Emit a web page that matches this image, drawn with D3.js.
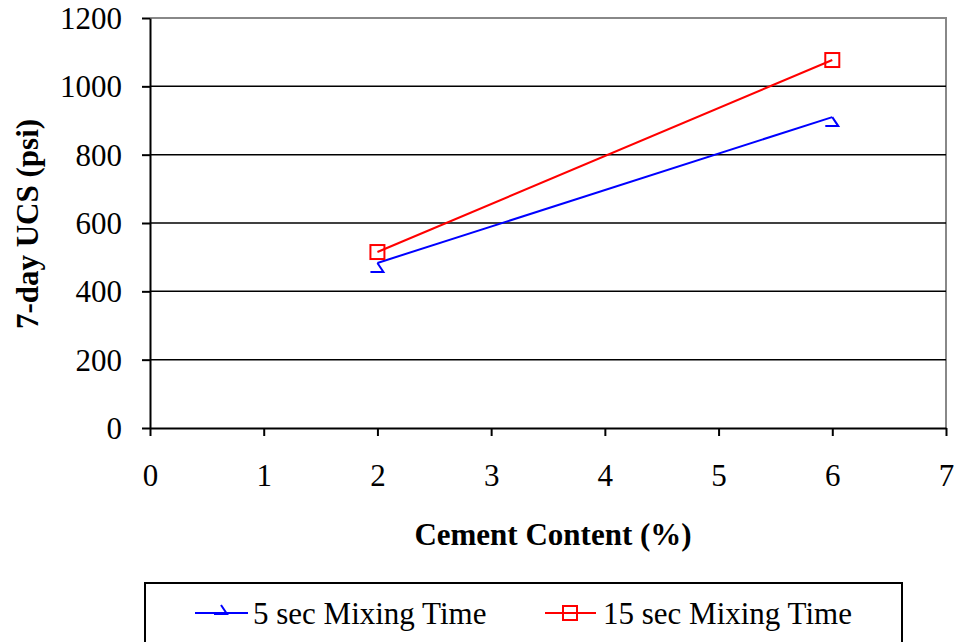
<!DOCTYPE html>
<html><head><meta charset="utf-8">
<script src="https://cdn.jsdelivr.net/npm/d3@7"></script>
<style>body{margin:0;background:#fff}svg{display:block}</style>
</head><body>
<svg id="c" width="956" height="642" font-family="'Liberation Serif','Times New Roman',serif"></svg>
<script>
const cementContent = [2, 6];
const mix5sec = [483, 910];
const mix15sec = [515, 1077];
const seriesNames = ["5 sec Mixing Time", "15 sec Mixing Time"];
const seriesColors = ["#0000ff", "#ff0000"];
const xTicks = [0,1,2,3,4,5,6,7];
const yTicks = [0,200,400,600,800,1000,1200];

const FF = "'Liberation Serif','Times New Roman',serif";
const svg = d3.select("#c");
const m = {l:150, r:946, t:18, b:428};
const x = d3.scaleLinear().domain([0,7]).range([m.l, m.r]);
const y = d3.scaleLinear().domain([0,1200]).range([m.b, m.t]);

svg.append("path").attr("d", `M${m.l},${m.t}H${m.r}V${m.b}`).attr("fill","none").attr("stroke","#888").attr("stroke-width",2);
svg.append("g").selectAll("line").data(yTicks.filter(v=>v>0 && v<1200)).join("line")
  .attr("x1",m.l).attr("x2",m.r).attr("y1",d=>y(d)).attr("y2",d=>y(d)).attr("stroke","#000").attr("stroke-width",1.5);

const fs = 31;
const xa = svg.append("g").attr("transform",`translate(0,${m.b})`)
  .call(d3.axisBottom(x).tickValues(xTicks).tickFormat(d3.format("d")).tickSize(8).tickSizeOuter(0));
xa.attr("font-family",FF);
xa.select(".domain").attr("stroke","#000").attr("stroke-width",2);
xa.selectAll(".tick line").attr("stroke","#000").attr("stroke-width",2);
xa.selectAll(".tick text").attr("font-size",fs).attr("fill","#000").attr("dy",0).attr("y",58);
const ya = svg.append("g").attr("transform",`translate(${m.l},0)`)
  .call(d3.axisLeft(y).tickValues(yTicks).tickFormat(d3.format("d")).tickSize(8).tickSizeOuter(0));
ya.attr("font-family",FF);
ya.select(".domain").attr("stroke","#000").attr("stroke-width",2);
ya.selectAll(".tick line").attr("stroke","#000").attr("stroke-width",2);
ya.selectAll(".tick text").attr("font-size",fs).attr("fill","#000").attr("x",-28).attr("dy","0.34em");

svg.append("text").attr("x",(m.l+m.r)/2+5).attr("y",545).attr("text-anchor","middle")
  .attr("font-size",fs).attr("font-weight","bold").text("Cement Content (%)");
svg.append("text").attr("transform",`translate(38,224) rotate(-90)`).attr("text-anchor","middle")
  .attr("font-size",fs).attr("font-weight","bold").text("7-day UCS (psi)");

const line = d3.line().x(d=>x(d[0])).y(d=>y(d[1]));
const d5 = cementContent.map((c,i)=>[c, mix5sec[i]]);
const d15 = cementContent.map((c,i)=>[c, mix15sec[i]]);
svg.append("path").datum(d5).attr("d",line).attr("fill","none").attr("stroke",seriesColors[0]).attr("stroke-width",2);
svg.append("path").datum(d15).attr("d",line).attr("fill","none").attr("stroke",seriesColors[1]).attr("stroke-width",2);

const arrowMarker = "M0,0L6,9L-7,9";
function drawArrow(g, cx, cy){
  g.append("path").attr("d",arrowMarker).attr("transform",`translate(${cx},${cy})`)
    .attr("fill","none").attr("stroke",seriesColors[0]).attr("stroke-width",2);
}
function drawSquare(g, cx, cy){
  g.append("rect").attr("x",cx-7).attr("y",cy-7).attr("width",14).attr("height",14)
    .attr("fill","none").attr("stroke",seriesColors[1]).attr("stroke-width",2);
}
d5.forEach(d=>drawArrow(svg, x(d[0]), y(d[1])));
d15.forEach(d=>drawSquare(svg, x(d[0]), y(d[1])));

svg.append("rect").attr("x",145).attr("y",583).attr("width",757).attr("height",70)
  .attr("fill","#fff").attr("stroke","#000").attr("stroke-width",2);
const ly = 613;
svg.append("line").attr("x1",195).attr("x2",248).attr("y1",ly).attr("y2",ly).attr("stroke",seriesColors[0]).attr("stroke-width",2);
drawArrow(svg, 221, ly-8);
svg.append("text").attr("x",253).attr("y",ly+11).attr("font-size",fs).text(seriesNames[0]);
svg.append("line").attr("x1",545).attr("x2",596).attr("y1",ly).attr("y2",ly).attr("stroke",seriesColors[1]).attr("stroke-width",2);
drawSquare(svg, 570, ly);
svg.append("text").attr("x",603).attr("y",ly+11).attr("font-size",fs).text(seriesNames[1]);
</script>
</body></html>
